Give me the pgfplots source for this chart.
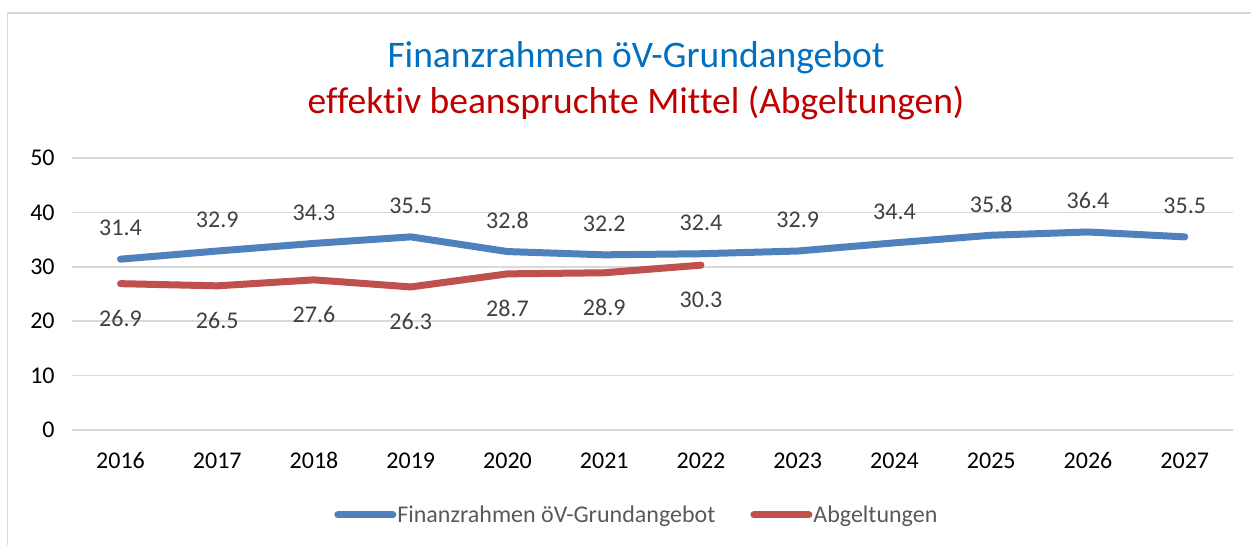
\documentclass[border=0pt]{standalone}
\usepackage{pgfplots}
\pgfplotsset{compat=1.18}
\usepackage{fontspec}
\setmainfont{Carlito}[Ligatures=NoCommon]
\definecolor{blueline}{HTML}{4F81BD}
\definecolor{redline}{HTML}{C0504D}
\definecolor{titleblue}{HTML}{0070C0}
\definecolor{titlered}{HTML}{C00000}
\definecolor{txt}{HTML}{404040}
\definecolor{tick}{HTML}{595959}
\definecolor{gridc}{HTML}{D9D9D9}
\begin{document}
\begin{tikzpicture}[x=1pt,y=1pt]
\useasboundingbox (0,0) rectangle (1251,545);
\draw[gridc, line width=1.5pt] (7.5,0) -- (7.5,532) -- (1251,532);
\node[titleblue, font=\fontsize{37.5}{42}\selectfont] at (636,487) {Finanzrahmen öV-Grundangebot};
\node[titlered, font=\fontsize{37.5}{42}\selectfont] at (636,442) {effektiv beanspruchte Mittel (Abgeltungen)};
\begin{axis}[
  at={(120.5pt,115pt)}, anchor=origin,
  width=1161pt, height=272pt, scale only axis,
  xmin=-0.5, xmax=11.5, ymin=0, ymax=50,
  ytick={0,10,20,30,40,50},
  xtick={0,1,2,3,4,5,6,7,8,9,10,11},
  xticklabels={2016,2017,2018,2019,2020,2021,2022,2023,2024,2025,2026,2027},
  /pgf/number format/assume math mode=true,
  axis line style={draw=none},
  major tick length=0pt,
  ymajorgrids,
  major grid style={gridc, line width=1.5pt},
  tick label style={tick, font=\fontsize{24}{28}\selectfont},
  yticklabel style={xshift=-14pt},
  xticklabel style={yshift=-19pt},
  clip=false,
  legend style={at={(0.486,-0.3125)}, anchor=center, draw=none, fill=none,
    font=\fontsize{24}{28}\selectfont, text=tick,
    /tikz/every even column/.style={column sep=34pt},
    inner sep=0pt, nodes={inner sep=1pt}},
  legend columns=2,
  legend image code/.code={\draw[#1, line width=7pt, line cap=round] (0pt,0pt) -- (55pt,0pt);},
  nodes near coords={\pgfmathprintnumber[fixed,fixed zerofill,precision=1,assume math mode=true]{\pgfplotspointmeta}},
  every node near coord/.append style={txt, font=\fontsize{24}{28}\selectfont, anchor=center},
]
\addplot[blueline, line width=7pt, line cap=round, line join=round, mark=none,
  every node near coord/.append style={yshift=31pt}]
  coordinates {(0,31.4) (1,32.9) (2,34.3) (3,35.5) (4,32.8) (5,32.2) (6,32.4) (7,32.9) (8,34.4) (9,35.8) (10,36.4) (11,35.5)};
\addlegendentry{Finanzrahmen öV-Grundangebot}
\addplot[redline, line width=7pt, line cap=round, line join=round, mark=none,
  every node near coord/.append style={yshift=-35pt}]
  coordinates {(0,26.9) (1,26.5) (2,27.6) (3,26.3) (4,28.7) (5,28.9) (6,30.3)};
\addlegendentry{Abgeltungen}
\end{axis}
\end{tikzpicture}
\end{document}
